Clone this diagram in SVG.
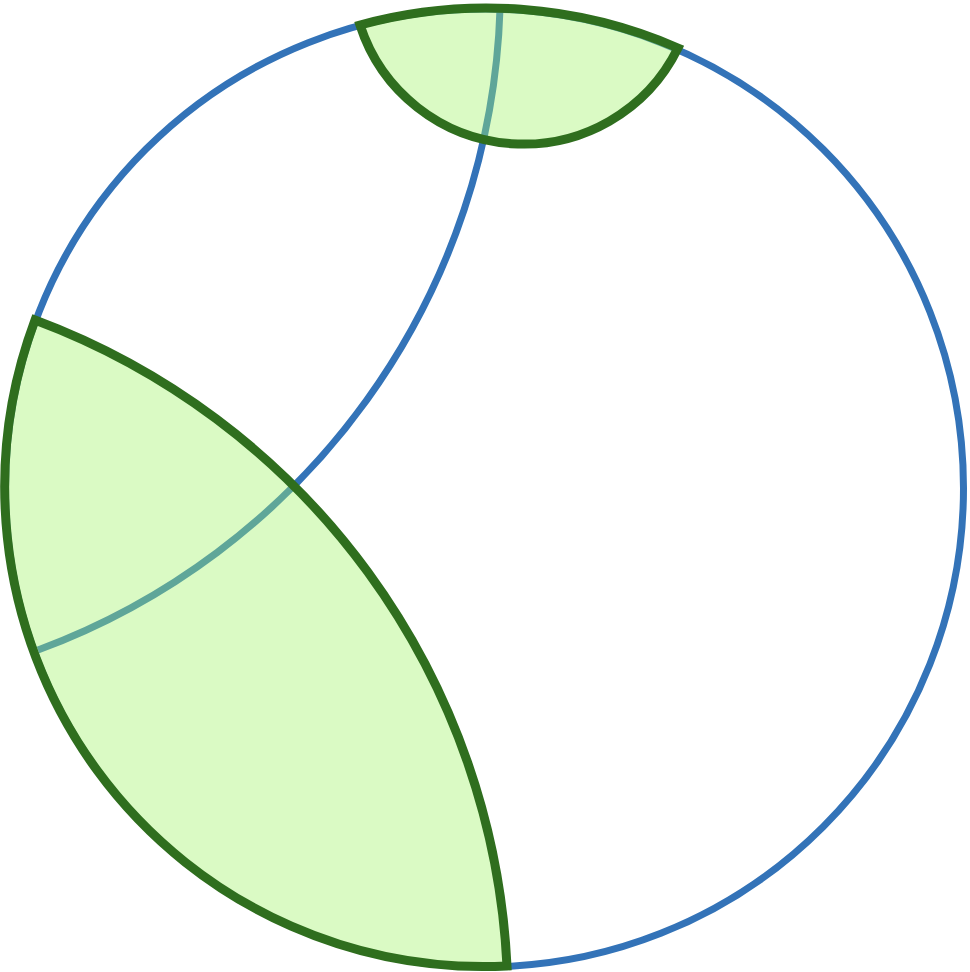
<svg xmlns="http://www.w3.org/2000/svg" width="970" height="972" viewBox="0 0 970 972">
<style>
.blue{fill:none;stroke:#3373b8;stroke-width:7}
.fillg{fill:#a3f36b;fill-opacity:0.4;stroke:none}
.edge{fill:none;stroke:#2f6e1e;stroke-width:9;stroke-linejoin:miter;stroke-miterlimit:10}
</style>
<rect width="970" height="972" fill="#ffffff"/>
<g id="disk">
<circle class="blue" cx="484.5" cy="488" r="479"/>
</g>
<g id="connectors">
<path class="blue" d="M 500 9 A 707.6 707.6 0 0 1 38 650"/>
</g>
<g id="region-top">
<path class="fillg" d="M 360 25 A 172 172 0 0 0 678 48 A 479 479 0 0 0 360 25 Z"/>
<path class="edge" d="M 360 25 A 172 172 0 0 0 678 48 A 479 479 0 0 0 360 25 Z"/>
</g>
<g id="region-left">
<path class="fillg" d="M 35 320 A 726.6 726.6 0 0 1 507 966 A 479 479 0 0 1 35 320 Z"/>
<path class="edge" d="M 35 320 A 726.6 726.6 0 0 1 507 966 A 479 479 0 0 1 35 320 Z"/>
</g>
</svg>
